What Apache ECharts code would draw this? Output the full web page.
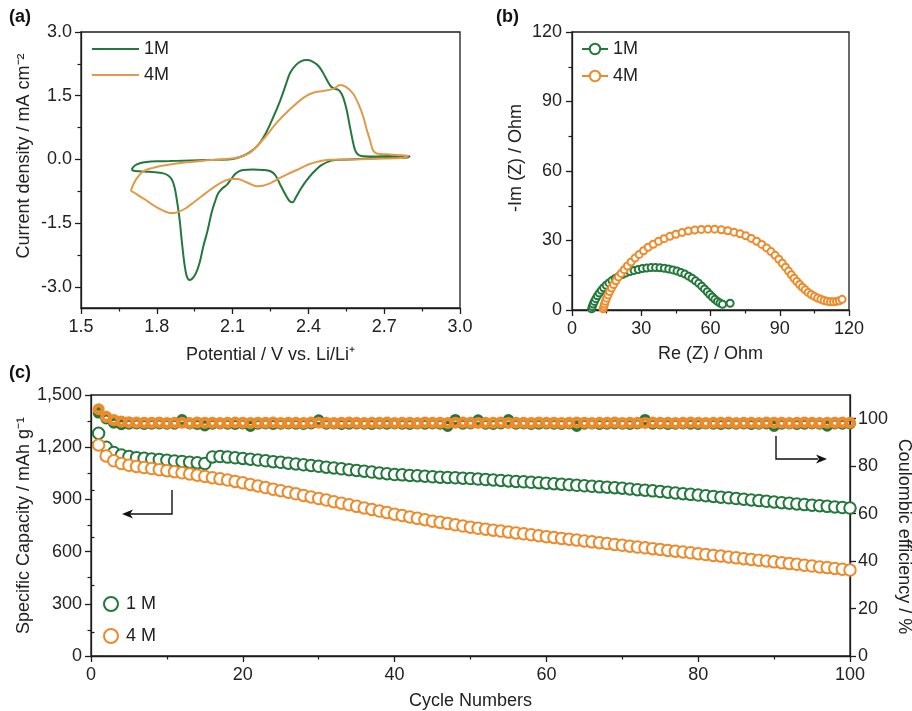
<!DOCTYPE html>
<html><head><meta charset="utf-8">
<script src="https://cdn.jsdelivr.net/npm/echarts@6/dist/echarts.min.js"></script>
<style>html,body{margin:0;padding:0;background:#fff}#chart{width:912px;height:711px}</style>
</head><body><div id="chart"></div>
<script>
// ---------- Panel (a): cyclic voltammetry, [potential V, current mA cm-2] ----------
const cv1M = [[1.70,-0.24],[1.712,-0.15],[1.733,-0.09],[1.76,-0.06],[1.80,-0.045],[1.852,-0.04],[1.90,-0.03],[1.97,-0.02],[2.04,-0.01],[2.10,0.01],[2.14,0.08],[2.17,0.18],[2.20,0.33],[2.23,0.6],[2.26,0.98],[2.288,1.38],[2.31,1.75],[2.327,2.03],[2.35,2.22],[2.37,2.31],[2.393,2.34],[2.415,2.31],[2.44,2.2],[2.459,2.03],[2.475,1.85],[2.49,1.71],[2.505,1.66],[2.518,1.64],[2.53,1.56],[2.54,1.42],[2.552,1.15],[2.564,0.78],[2.575,0.45],[2.584,0.23],[2.595,0.12],[2.61,0.08],[2.66,0.07],[2.72,0.08],[2.789,0.08],[2.80,0.07],
  [2.78,0.04],[2.70,0.03],[2.60,0.01],[2.52,-0.01],[2.485,-0.04],[2.45,-0.14],[2.419,-0.31],[2.39,-0.52],[2.367,-0.72],[2.35,-0.9],[2.338,-1.01],[2.325,-0.98],[2.31,-0.84],[2.288,-0.59],[2.27,-0.38],[2.25,-0.28],[2.221,-0.25],[2.18,-0.24],[2.142,-0.25],[2.125,-0.28],[2.109,-0.35],[2.09,-0.5],[2.077,-0.6],[2.06,-0.68],[2.043,-0.8],[2.03,-1.0],[2.017,-1.25],[2.0,-1.7],[1.984,-2.05],[1.97,-2.42],[1.955,-2.68],[1.942,-2.8],[1.93,-2.84],[1.918,-2.74],[1.908,-2.4],[1.898,-1.87],[1.89,-1.4],[1.879,-0.94],[1.87,-0.65],[1.859,-0.47],[1.845,-0.38],[1.826,-0.33],[1.79,-0.3],[1.76,-0.29],[1.73,-0.28],[1.71,-0.27],[1.70,-0.24]];
const cv4M = [[1.697,-0.74],[1.705,-0.62],[1.715,-0.5],[1.727,-0.4],[1.74,-0.31],[1.76,-0.24],[1.786,-0.2],[1.82,-0.15],[1.852,-0.12],[1.92,-0.07],[1.984,-0.03],[2.05,0.0],[2.116,0.04],[2.169,0.16],[2.221,0.47],[2.274,0.86],[2.327,1.18],[2.38,1.45],[2.419,1.57],[2.459,1.61],[2.499,1.66],[2.525,1.75],[2.55,1.7],[2.578,1.54],[2.60,1.28],[2.617,1.01],[2.631,0.7],[2.644,0.45],[2.655,0.22],[2.67,0.14],[2.71,0.12],[2.76,0.1],[2.795,0.08],
  [2.77,0.03],[2.683,0.02],[2.58,0.0],[2.485,-0.01],[2.44,-0.05],[2.40,-0.12],[2.354,-0.25],[2.314,-0.36],[2.28,-0.46],[2.25,-0.56],[2.22,-0.62],[2.195,-0.63],[2.17,-0.58],[2.14,-0.5],[2.12,-0.46],[2.095,-0.46],[2.07,-0.5],[2.04,-0.6],[2.01,-0.72],[1.975,-0.88],[1.944,-1.02],[1.915,-1.15],[1.892,-1.22],[1.87,-1.26],[1.85,-1.26],[1.83,-1.22],[1.80,-1.13],[1.776,-1.04],[1.755,-0.95],[1.73,-0.86],[1.71,-0.78],[1.697,-0.74]];
const xTicksA = [1.5, 1.8, 2.1, 2.4, 2.7, 3.0];
const yTicksA = [-3.0, -1.5, 0.0, 1.5, 3.0];
const yMinorA = [-2.25, -0.75, 0.75, 2.25];

// ---------- Panel (b): Nyquist plot, [Re Z, -Im Z] in Ohm ----------
const eis1M = [[8.5,0.5],[8.8,1.5],[9.2,2.6],[9.7,3.7],[10.3,4.9],[11.0,6.1],[11.8,7.3],[12.7,8.5],[13.7,9.6],[14.8,10.7],[16.0,11.7],[17.3,12.7],[18.7,13.6],[20.2,14.5],[21.8,15.3],[23.4,16.0],[25.1,16.6],[26.9,17.1],[28.7,17.5],[30.5,17.9],[32.4,18.1],[34.3,18.3],[36.2,18.3],[38.1,18.2],[40.0,18.0],[41.9,17.7],[43.7,17.3],[45.5,16.8],[47.2,16.2],[48.9,15.5],[50.5,14.6],[52.0,13.7],[53.5,12.6],[54.9,11.5],[56.2,10.3],[57.4,9.1],[58.6,7.9],[59.7,6.7],[60.8,5.6],[61.9,4.6],[63.0,3.7],[64.1,3.0],[65.2,2.5],[68.5,2.9]];
const eis4M = [[13.5,0.5],[13.8,1.5],[14.1,2.6],[14.5,3.8],[15.0,5.1],[15.6,6.5],[16.3,8.0],[17.1,9.5],[18.0,11.0],[19.0,12.6],[20.1,14.2],[21.3,15.8],[22.6,17.4],[24.0,19.0],[25.6,20.7],[27.3,22.4],[29.1,24.0],[31.0,25.6],[33.0,27.1],[35.2,28.4],[37.5,29.7],[39.9,30.8],[42.4,31.8],[45.0,32.7],[47.7,33.5],[50.4,34.1],[53.2,34.5],[56.0,34.8],[58.9,34.9],[61.8,34.9],[64.7,34.6],[67.5,34.2],[70.2,33.6],[72.8,32.9],[75.3,32.0],[77.7,30.9],[80.0,29.7],[82.2,28.3],[84.3,26.8],[86.2,25.2],[88.0,23.6],[89.6,21.9],[91.1,20.2],[92.5,18.5],[93.8,16.8],[95.0,15.2],[96.2,13.7],[97.4,12.3],[98.6,11.0],[99.8,9.8],[101.0,8.7],[102.3,7.6],[103.6,6.7],[105.0,5.9],[106.4,5.2],[107.8,4.6],[109.2,4.1],[110.6,3.8],[112.0,3.6],[113.3,3.6],[114.6,3.7],[115.8,4.0],[117.0,4.6]];

// ---------- Panel (c): cycling ----------
const cycles = Array.from({length: 100}, (_, i) => i + 1);
const cap1M = [1280,1200,1170,1155,1146,1140,1136,1132,1129,1125,1121,1118,1114,1110,1106,1144,1146,1143,1139,1135,
  1131,1126,1122,1117,1113,1108,1104,1099,1095,1090,1085,1081,1076,1071,1066,1062,1057,1052,1048,1043,
  1041,1038,1036,1033,1030,1028,1026,1024,1022,1020,1017,1014,1012,1009,1006,1003,1001,998,996,993,
  990,987,984,981,978,975,972,970,967,964,960,956,953,949,945,941,937,933,929,925,
  921,917,913,909,905,901,897,893,889,885,881,878,874,870,867,864,860,857,853,850];
const cap4M = [1213,1150,1122,1106,1096,1089,1083,1077,1071,1065,1059,1053,1046,1039,1032,1025,1018,1011,1003,995,
  986,977,968,959,950,941,932,923,914,905,896,887,878,869,860,851,842,833,824,815,
  807,799,791,783,775,768,761,754,747,740,734,729,723,718,712,707,702,697,691,686,
  681,676,671,666,661,656,651,646,641,636,631,626,622,617,612,607,602,598,593,588,
  583,578,574,569,564,559,555,550,546,541,536,531,527,522,517,512,508,503,499,494];
const ce1M = [102.5,100.0,98.2,97.6,97.8,97.9,97.7,97.8,97.9,97.8,
  97.8,99.5,97.9,97.7,97.1,97.8,97.9,97.8,97.7,97.9,
  96.9,97.8,97.9,97.7,97.8,97.9,97.8,97.7,97.9,99.4,
  97.8,97.9,97.7,97.8,97.9,97.8,97.7,97.9,97.8,97.9,
  97.8,97.7,97.9,97.8,97.9,97.8,96.9,99.6,97.8,97.9,
  99.4,97.8,97.7,97.9,99.5,97.8,97.9,97.7,97.8,97.9,
  97.8,97.7,97.9,96.9,97.8,97.9,97.7,97.8,97.9,97.8,
  97.7,97.9,99.6,97.8,97.9,97.7,97.8,97.9,97.8,97.7,
  97.9,97.8,97.7,97.9,97.8,97.9,97.7,97.8,97.9,96.9,
  97.8,97.9,97.7,97.8,97.9,97.8,97.0,97.9,97.8,97.9];
const ce4M = [104.0,100.8,99.4,98.8,98.5,98.4,98.3,98.3,98.4,98.2,
  98.3,98.3,98.2,98.4,98.3,98.3,98.2,98.3,98.4,98.3,
  98.2,98.3,98.3,98.4,98.2,98.3,98.3,98.2,98.4,98.3,
  98.3,98.2,98.3,98.4,98.3,98.2,98.3,98.3,98.4,98.2,
  98.3,98.3,98.2,98.4,98.3,98.3,98.2,98.3,98.4,98.3,
  98.2,98.3,98.3,98.4,98.2,98.3,98.3,98.2,98.4,98.3,
  98.3,98.2,98.3,98.4,98.3,98.2,98.3,98.3,98.4,98.2,
  98.3,98.3,98.2,98.4,98.3,98.3,98.2,98.3,98.4,98.3,
  98.2,98.3,98.3,98.4,98.2,98.3,98.3,98.2,98.4,98.3,
  98.3,98.2,98.3,98.4,98.3,98.2,98.3,98.3,98.4,98.3];
const yTicksCE = [0, 20, 40, 60, 80, 100];
const yMinorCE = [10, 30, 50, 70, 90];

// ---------- styling ----------
const FONT = '"Liberation Sans", Arial, Helvetica, sans-serif';
const INK = '#1c1c1c';
const GREEN = '#23783b';
const ORANGE = '#ef8a2a';
const ORANGE_CV = '#e29a48';

const pair = (xs, ys) => xs.map((x, i) => [x, ys[i]]);

function baseAxis(extra) {
  return Object.assign({
    axisLine: {show: true, onZero: false, lineStyle: {color: INK, width: 1.3}},
    axisTick: {show: true, inside: false, length: 6, lineStyle: {color: INK, width: 1.3}},
    minorTick: {show: true, splitNumber: 2, length: 3.5, lineStyle: {color: INK, width: 1.2}},
    splitLine: {show: false},
    minorSplitLine: {show: false},
    axisLabel: {color: '#222', fontSize: 18, fontFamily: FONT},
    nameTextStyle: {color: '#222', fontSize: 18, fontFamily: FONT},
    nameLocation: 'middle',
    nameMoveOverlap: false
  }, extra);
}
function minorOverlay(gridIndex, position, min, max, values) {
  return {
    type: 'value', gridIndex: gridIndex, position: position, min: min, max: max,
    axisLine: {show: false}, splitLine: {show: false},
    axisLabel: {show: false},
    axisTick: {show: true, length: 3.5, customValues: values, lineStyle: {color: INK, width: 1.2}}
  };
}

const chart = echarts.init(document.getElementById('chart'), null, {renderer: 'canvas'});
const gridBorder = {show: true, borderColor: INK, borderWidth: 1.3, backgroundColor: 'transparent',
  containLabel: false, outerBoundsMode: 'none'};
const legendText = {color: '#222', fontSize: 18, fontFamily: FONT};

const option = {
  animation: false,
  backgroundColor: '#fff',
  textStyle: {fontFamily: FONT},
  grid: [
    Object.assign({left: 81, top: 32, width: 379, height: 276}, gridBorder),
    Object.assign({left: 572, top: 32, width: 277, height: 278}, gridBorder),
    Object.assign({left: 91, top: 395, width: 759, height: 261}, gridBorder)
  ],
  xAxis: [
    baseAxis({type: 'value', gridIndex: 0, min: 1.5, max: 3.0, interval: 0.3,
      name: 'Potential / V vs. Li/Li\u207A', nameGap: 38,
      axisLabel: {color: '#222', fontSize: 18, fontFamily: FONT, margin: 10, formatter: v => v.toFixed(1)}}),
    baseAxis({type: 'value', gridIndex: 1, min: 0, max: 120, interval: 30,
      name: 'Re (Z) / Ohm', nameGap: 35,
      axisLabel: {color: '#222', fontSize: 18, fontFamily: FONT, margin: 10}}),
    baseAxis({type: 'value', gridIndex: 2, min: 0, max: 100, interval: 20,
      name: 'Cycle Numbers', nameGap: 36,
      axisLabel: {color: '#222', fontSize: 18, fontFamily: FONT, margin: 10}})
  ],
  yAxis: [
    baseAxis({type: 'value', gridIndex: 0, position: 'left', min: -3.5, max: 3.0,
      name: 'Current density / mA cm\u207B\u00B2', nameGap: 48,
      nameTextStyle: {color: '#222', fontSize: 18, fontFamily: FONT, padding: [0, 0, 0, 28]},
      minorTick: {show: false},
      axisTick: {show: true, length: 6, customValues: yTicksA, lineStyle: {color: INK, width: 1.3}},
      axisLabel: {color: '#222', fontSize: 18, fontFamily: FONT, margin: 9, customValues: yTicksA, formatter: v => v.toFixed(1)}}),
    minorOverlay(0, 'left', -3.5, 3.0, yMinorA),
    baseAxis({type: 'value', gridIndex: 1, position: 'left', min: 0, max: 120, interval: 30,
      name: '-Im (Z) / Ohm', nameGap: 47,
      nameTextStyle: {color: '#222', fontSize: 18, fontFamily: FONT, padding: [0, 0, 0, 26]},
      axisLabel: {color: '#222', fontSize: 18, fontFamily: FONT, margin: 10}}),
    baseAxis({type: 'value', gridIndex: 2, position: 'left', min: 0, max: 1500, interval: 300,
      name: 'Specific Capacity / mAh g\u207B\u00B9', nameGap: 58,
      axisLabel: {color: '#222', fontSize: 18, fontFamily: FONT, margin: 9, formatter: v => v.toLocaleString('en-US')}}),
    baseAxis({type: 'value', gridIndex: 2, position: 'right', min: 0, max: 110,
      name: 'Coulombic efficiency / %', nameGap: 45, nameRotate: -90,
      nameTextStyle: {color: '#222', fontSize: 18, fontFamily: FONT, padding: [0, 0, 0, 22]},
      minorTick: {show: false},
      axisTick: {show: true, length: 6, customValues: yTicksCE, lineStyle: {color: INK, width: 1.3}},
      axisLabel: {color: '#222', fontSize: 18, fontFamily: FONT, margin: 8, customValues: yTicksCE}}),
    minorOverlay(2, 'right', 0, 110, yMinorCE)
  ],
  legend: [
    {data: ['a1M', 'a4M'], formatter: n => n.slice(1), orient: 'vertical', left: 92, top: 40,
      icon: 'rect', itemWidth: 47, itemHeight: 2.2, itemGap: 8, padding: 0, textStyle: legendText},
    {data: ['b1M', 'b4M'], formatter: n => n.slice(1), orient: 'vertical', left: 581, top: 40,
      itemWidth: 26, itemHeight: 13, itemGap: 9, padding: 0, textStyle: legendText},
    {data: ['c1 M', 'c4 M'], formatter: n => n.slice(1), orient: 'vertical', left: 103, top: 595,
      itemWidth: 20, itemHeight: 14, itemGap: 14, padding: 0, textStyle: legendText,
      itemStyle: {borderWidth: 1.6}}
  ],
  series: [
    {name: 'a1M', type: 'line', xAxisIndex: 0, yAxisIndex: 0, data: cv1M, symbol: 'none', smooth: 0.3,
      lineStyle: {color: GREEN, width: 2}, itemStyle: {color: GREEN}},
    {name: 'a4M', type: 'line', xAxisIndex: 0, yAxisIndex: 0, data: cv4M, symbol: 'none', smooth: 0.3,
      lineStyle: {color: ORANGE_CV, width: 2}, itemStyle: {color: ORANGE_CV}},
    {name: 'b1M', type: 'line', xAxisIndex: 1, yAxisIndex: 2, data: eis1M, symbol: 'emptyCircle', symbolSize: 7,
      showAllSymbol: true, lineStyle: {color: GREEN, width: 1.5}, itemStyle: {color: GREEN, borderWidth: 1.4}},
    {name: 'b4M', type: 'line', xAxisIndex: 1, yAxisIndex: 2, data: eis4M, symbol: 'emptyCircle', symbolSize: 7,
      showAllSymbol: true, lineStyle: {color: ORANGE, width: 1.5}, itemStyle: {color: ORANGE, borderWidth: 1.4}},
    {name: 'c1 M', type: 'scatter', xAxisIndex: 2, yAxisIndex: 3, data: pair(cycles, cap1M), symbol: 'emptyCircle', symbolSize: 11.5,
      itemStyle: {color: GREEN, borderWidth: 1.5, opacity: 1}},
    {name: 'c4 M', type: 'scatter', xAxisIndex: 2, yAxisIndex: 3, data: pair(cycles, cap4M), symbol: 'emptyCircle', symbolSize: 11.5,
      itemStyle: {color: ORANGE, borderWidth: 1.5, opacity: 1}},
    {name: 'CE 1 M', type: 'scatter', xAxisIndex: 2, yAxisIndex: 4, data: pair(cycles, ce1M), symbol: 'circle', symbolSize: 8,
      itemStyle: {color: 'rgba(0,0,0,0)', borderColor: GREEN, borderWidth: 3.6, opacity: 1}},
    {name: 'CE 4 M', type: 'scatter', xAxisIndex: 2, yAxisIndex: 4, data: pair(cycles, ce4M), symbol: 'circle', symbolSize: 8,
      itemStyle: {color: 'rgba(0,0,0,0)', borderColor: ORANGE, borderWidth: 4.2, opacity: 1}}
  ],
  graphic: [
    {type: 'text', left: 9, top: 8, style: {text: '(a)', fontSize: 18, fontWeight: 'bold', fontFamily: FONT, fill: '#111'}},
    {type: 'text', left: 496, top: 8, style: {text: '(b)', fontSize: 18, fontWeight: 'bold', fontFamily: FONT, fill: '#111'}},
    {type: 'text', left: 9, top: 364, style: {text: '(c)', fontSize: 18, fontWeight: 'bold', fontFamily: FONT, fill: '#111'}},
    {type: 'polyline', shape: {points: [[172, 490], [172, 514], [130, 514]]}, style: {stroke: '#111', lineWidth: 1.4, fill: null}},
    {type: 'polygon', shape: {points: [[122, 514], [133, 509.5], [130, 514], [133, 518.5]]}, style: {fill: '#111'}},
    {type: 'polyline', shape: {points: [[776, 436], [776, 459], [818, 459]]}, style: {stroke: '#111', lineWidth: 1.4, fill: null}},
    {type: 'polygon', shape: {points: [[827, 459], [816, 454.5], [819, 459], [816, 463.5]]}, style: {fill: '#111'}}
  ]
};
chart.setOption(option);
</script>
</body></html>
